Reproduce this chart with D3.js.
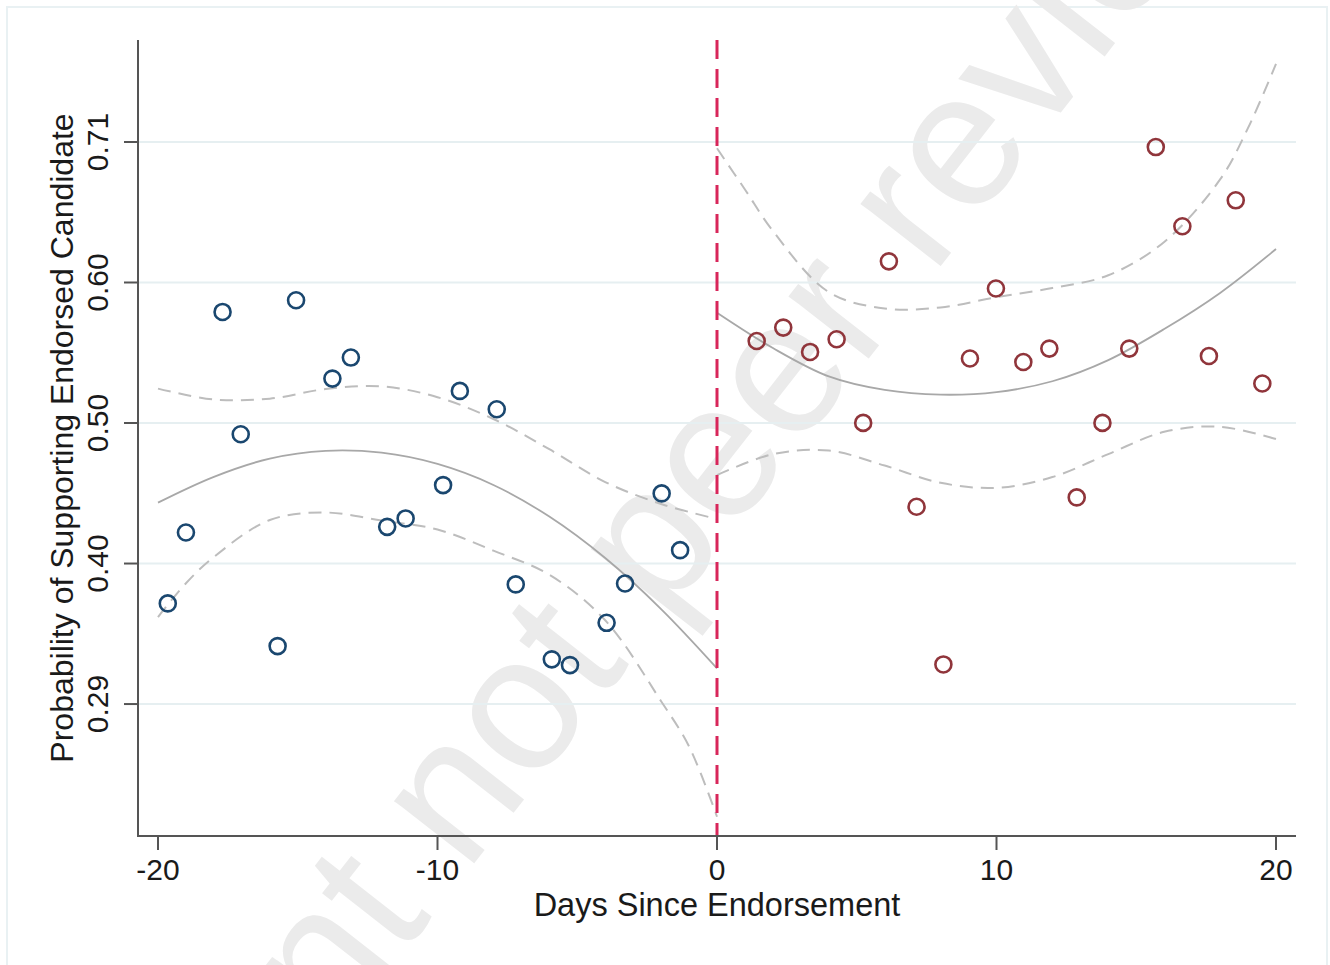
<!DOCTYPE html>
<html>
<head>
<meta charset="utf-8">
<script src="https://cdn.jsdelivr.net/npm/d3@7"></script>
<style>
  html, body { margin: 0; padding: 0; background: #ffffff; }
  svg { display: block; }
  text { font-family: "Liberation Sans", Arial, Helvetica, sans-serif; }
</style>
</head>
<body>
<svg id="chart" width="1330" height="965"></svg>
<script>
// ---------------- DATA ----------------
const beforeDays = [-19.65, -19.0, -17.69, -17.04, -15.72, -15.06, -13.76, -13.1, -11.8, -11.14,
                    -9.8, -9.2, -7.88, -7.2, -5.91, -5.26, -3.95, -3.29, -1.98, -1.32];
const beforeProb = [0.3652, 0.4182, 0.5830, 0.4916, 0.3333, 0.5917, 0.5332, 0.5489, 0.4224, 0.4287,
                    0.4536, 0.5240, 0.5103, 0.3794, 0.3234, 0.3191, 0.3507, 0.3801, 0.4474, 0.4050];

const afterDays = [1.42, 2.37, 3.33, 4.28, 5.23, 6.15, 7.14, 8.10, 9.05, 9.98,
                   10.96, 11.89, 12.87, 13.79, 14.75, 15.70, 16.65, 17.60, 18.56, 19.51];
const afterProb = [0.5613, 0.5713, 0.5531, 0.5626, 0.5001, 0.6208, 0.4374, 0.3196, 0.5482, 0.6005,
                   0.5456, 0.5556, 0.4444, 0.5001, 0.5556, 0.7062, 0.6470, 0.5501, 0.6664, 0.5295];

// fitted curve and confidence bounds, before endorsement
const fitBeforeDays = [-20, -18, -16, -14, -12, -10, -8, -6, -4, -2, 0];
const fitBefore     = [0.4405, 0.4598, 0.4734, 0.4792, 0.4778, 0.4694, 0.4537, 0.4301, 0.3991, 0.3610, 0.3167];
const hiBefore      = [0.5257, 0.5176, 0.5182, 0.5254, 0.5274, 0.5193, 0.5030, 0.4804, 0.4559, 0.4395, 0.4283];
const loBeforeDays  = [-20, -19, -18, -16, -14, -12, -10, -8, -6, -4, -2, -1, 0];
const loBefore      = [0.3550, 0.3803, 0.3999, 0.4275, 0.4331, 0.4271, 0.4204, 0.4046, 0.3866, 0.3526, 0.2921, 0.2583, 0.2058];

// fitted curve and confidence bounds, after endorsement
const fitAfterDays = [0, 2, 4, 6, 8, 10, 12, 14, 16, 18, 20];
const fitAfter     = [0.5824, 0.5560, 0.5348, 0.5247, 0.5212, 0.5231, 0.5312, 0.5470, 0.5702, 0.5972, 0.6300];
const hiAfterDays  = [0, 1, 2, 4, 6, 8, 10, 12, 14, 16, 18, 19, 20];
const hiAfter      = [0.7053, 0.6745, 0.6435, 0.5978, 0.5856, 0.5864, 0.5940, 0.6009, 0.6104, 0.6353, 0.6820, 0.7205, 0.7683];
const loAfterDays  = [0, 2, 4, 6, 8, 10, 12, 14, 16, 18, 20];
const loAfter      = [0.4611, 0.4767, 0.4794, 0.4682, 0.4553, 0.4516, 0.4596, 0.4768, 0.4934, 0.4972, 0.4880];

const xTicks = [-20, -10, 0, 10, 20];
const yTicks = [0.29, 0.395, 0.50, 0.605, 0.71];
const yTickLabels = ["0.29", "0.40", "0.50", "0.60", "0.71"];
const cutoff = 0;

// ---------------- LAYOUT ----------------
const svg = d3.select("#chart");
const plotLeft = 138, plotRight = 1296, plotTop = 40, plotBottom = 836;

const x = d3.scaleLinear().domain([-20, 20]).range([158, 1276]);
const y = d3.scaleLinear().domain([0.1914, 0.7862]).range([plotBottom, plotTop]);

const blue = "#1a476f", red = "#90353b";

// outer frame
svg.append("rect").attr("x", 7).attr("y", 7).attr("width", 1320).attr("height", 975)
  .attr("fill", "#ffffff").attr("stroke", "#e9f1f3").attr("stroke-width", 2);

// watermark (clipped to the page like the reference)
svg.append("clipPath").attr("id", "pageClip")
  .append("rect").attr("x", 0).attr("y", 0).attr("width", 1330).attr("height", 965);
svg.append("g").attr("clip-path", "url(#pageClip)")
  .append("text")
  .attr("transform", "translate(719,550) rotate(-52)")
  .attr("text-anchor", "middle")
  .attr("font-size", 192)
  .attr("fill", "#ebebeb")
  .text("preprint not peer reviewed");

// gridlines
svg.append("g").selectAll("line").data(yTicks).join("line")
  .attr("x1", plotLeft).attr("x2", plotRight)
  .attr("y1", d => y(d)).attr("y2", d => y(d))
  .attr("stroke", "#e6eff1").attr("stroke-width", 2);

// curves
const lineGen = d3.line().x(d => x(d[0])).y(d => y(d[1])).curve(d3.curveCatmullRom.alpha(0.5));
function drawCurve(xs, ys, dashed) {
  svg.append("path")
    .datum(xs.map((v, i) => [v, ys[i]]))
    .attr("d", lineGen)
    .attr("fill", "none")
    .attr("stroke", dashed ? "#bdbdbd" : "#a8a8a8")
    .attr("stroke-width", dashed ? 2 : 1.8)
    .attr("stroke-dasharray", dashed ? "13 8" : null);
}
drawCurve(fitBeforeDays, fitBefore, false);
drawCurve(fitBeforeDays, hiBefore, true);
drawCurve(loBeforeDays, loBefore, true);
drawCurve(fitAfterDays, fitAfter, false);
drawCurve(hiAfterDays, hiAfter, true);
drawCurve(loAfterDays, loAfter, true);

// cutoff line
svg.append("line")
  .attr("x1", x(cutoff)).attr("x2", x(cutoff))
  .attr("y1", plotTop).attr("y2", plotBottom)
  .attr("stroke", "#d8265a").attr("stroke-width", 3)
  .attr("stroke-dasharray", "19 10");

// markers
svg.append("g").selectAll("circle").data(beforeDays.map((d, i) => [d, beforeProb[i]])).join("circle")
  .attr("cx", d => x(d[0])).attr("cy", d => y(d[1])).attr("r", 8)
  .attr("fill", "none").attr("stroke", blue).attr("stroke-width", 2.6);
svg.append("g").selectAll("circle").data(afterDays.map((d, i) => [d, afterProb[i]])).join("circle")
  .attr("cx", d => x(d[0])).attr("cy", d => y(d[1])).attr("r", 8)
  .attr("fill", "none").attr("stroke", red).attr("stroke-width", 2.6);

// axes
const axisColor = "#555555";
svg.append("line").attr("x1", plotLeft).attr("x2", plotLeft).attr("y1", plotTop).attr("y2", plotBottom + 1)
  .attr("stroke", axisColor).attr("stroke-width", 2);
svg.append("line").attr("x1", plotLeft - 1).attr("x2", plotRight).attr("y1", plotBottom).attr("y2", plotBottom)
  .attr("stroke", axisColor).attr("stroke-width", 2);

// y ticks
const yt = svg.append("g");
yt.selectAll("line").data(yTicks).join("line")
  .attr("x1", plotLeft - 14).attr("x2", plotLeft)
  .attr("y1", d => y(d)).attr("y2", d => y(d))
  .attr("stroke", axisColor).attr("stroke-width", 2);
yt.selectAll("text").data(yTicks).join("text")
  .attr("transform", d => `translate(108,${y(d)}) rotate(-90)`)
  .attr("text-anchor", "middle")
  .attr("font-size", 30).attr("fill", "#1a1a1a")
  .text((d, i) => yTickLabels[i]);

// x ticks
const xt = svg.append("g");
xt.selectAll("line").data(xTicks).join("line")
  .attr("x1", d => x(d)).attr("x2", d => x(d))
  .attr("y1", plotBottom).attr("y2", plotBottom + 14)
  .attr("stroke", axisColor).attr("stroke-width", 2);
xt.selectAll("text").data(xTicks).join("text")
  .attr("x", d => x(d)).attr("y", 880)
  .attr("text-anchor", "middle")
  .attr("font-size", 30).attr("fill", "#1a1a1a")
  .text(d => d);

// axis titles
svg.append("text")
  .attr("x", (plotLeft + plotRight) / 2).attr("y", 916)
  .attr("text-anchor", "middle").attr("font-size", 32.5).attr("fill", "#1a1a1a")
  .text("Days Since Endorsement");
svg.append("text")
  .attr("transform", `translate(73,${(plotTop + plotBottom) / 2}) rotate(-90)`)
  .attr("text-anchor", "middle").attr("font-size", 32).attr("fill", "#1a1a1a")
  .text("Probability of Supporting Endorsed Candidate");
</script>
</body>
</html>
